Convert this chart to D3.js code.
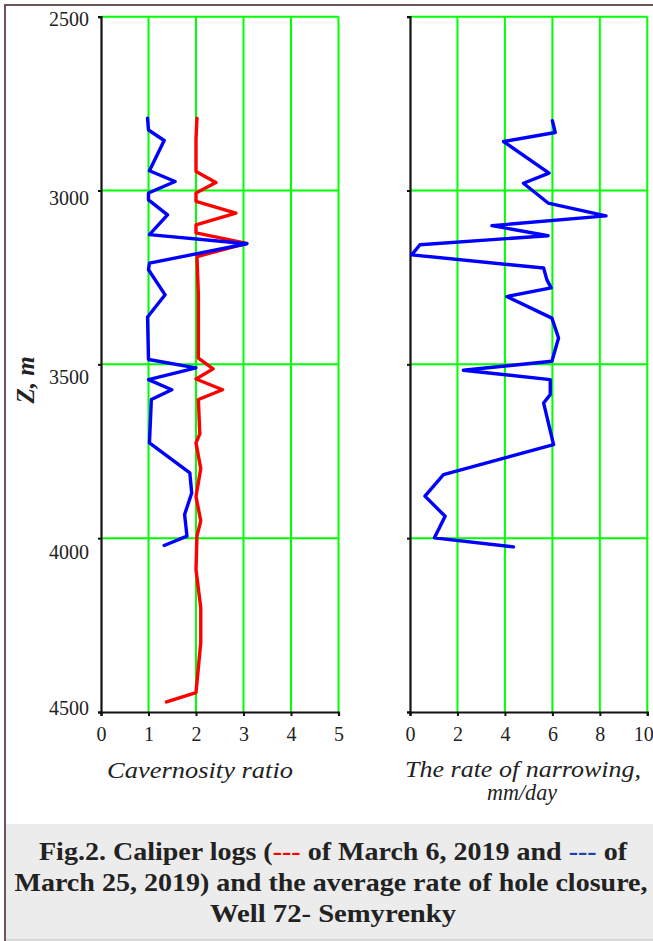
<!DOCTYPE html>
<html lang="en">
<head>
  <meta charset="UTF-8">
  <script src="https://d3js.org/d3.v7.min.js"></script>
  <style>
    body { margin: 0; background: #ffffff; }
    svg { display: block; }
    .tick-label { font-family: "Liberation Serif", serif; font-size: 20px; fill: #222; }
    .axis-title { font-family: "Liberation Serif", serif; font-style: italic; font-size: 23px; fill: #222; }
    .caption { font-family: "Liberation Serif", serif; font-weight: bold; font-size: 26px; fill: #222; }
  </style>
</head>
<body>
<div id="chart"></div>
<script>
  // depth ticks (m)
  const depthTicks = [2500, 3000, 3500, 4000, 4500];
  const cavTicks = [0, 1, 2, 3, 4, 5];
  const rateTicks = [0, 2, 4, 6, 8, 10];

  // caliper log of March 25, 2019 (blue)
  const depthBlue = [2792, 2826, 2856, 2943, 2974, 3007, 3027, 3070, 3127, 3153, 3209, 3228, 3300, 3364,
                     3486, 3510, 3544, 3573, 3601, 3726, 3812, 3870, 3932, 3994, 4021];
  const cavBlue = [0.98, 1.0, 1.33, 1.02, 1.56, 1.0, 1.0, 1.40, 1.02, 3.07, 1.02, 1.0, 1.35, 0.98,
                   1.0, 2.0, 1.0, 1.49, 1.06, 1.02, 1.87, 1.91, 1.76, 1.81, 1.33];

  // caliper log of March 6, 2019 (red)
  const depthRed = [2792, 2850, 2945, 2977, 3007, 3031, 3065, 3099, 3122, 3152, 3190, 3300, 3400, 3482,
                    3513, 3542, 3573, 3601, 3700, 3726, 3800, 3880, 3950, 3994, 4090, 4200, 4300, 4444, 4471];
  const cavRed = [2.02, 2.0, 2.0, 2.42, 2.0, 2.0, 2.84, 2.0, 2.0, 3.07, 2.02, 2.05, 2.05, 2.05,
                  2.36, 2.0, 2.56, 2.05, 2.08, 2.0, 2.1, 2.0, 2.1, 2.02, 2.0, 2.1, 2.1, 2.0, 1.38];

  // rate of narrowing, mm/day
  const depthRate = [2799, 2833, 2859, 2950, 2979, 3036, 3073, 3101, 3130, 3156, 3185, 3223, 3257, 3280,
                     3305, 3367, 3424, 3491, 3517, 3544, 3587, 3611, 3731, 3817, 3879, 3937, 3999, 4025];
  const rate = [6.0, 6.12, 3.94, 5.86, 4.78, 5.82, 8.26, 3.45, 5.82, 0.42, 0.07, 5.63, 5.77, 5.95,
                4.08, 5.98, 6.26, 5.98, 2.25, 5.91, 5.91, 5.63, 6.05, 1.41, 0.63, 1.48, 1.03, 4.36];

  const width = 653, height = 941;
  const green = "#00ff00";
  // the depth labels sit a little off their ticks in the original
  const depthLabelShift = [2, 8, 13, 14, -4];

  const svg = d3.select("#chart").append("svg")
    .attr("width", width)
    .attr("height", height);

  svg.append("rect").attr("width", width).attr("height", height).attr("fill", "#fff");

  // frame
  svg.append("line").attr("x1", 4).attr("x2", width).attr("y1", 5).attr("y2", 5)
    .attr("stroke", "#6e5657").attr("stroke-width", 2);
  svg.append("line").attr("x1", 5).attr("x2", 5).attr("y1", 4).attr("y2", height)
    .attr("stroke", "#6e5657").attr("stroke-width", 2);

  const y = d3.scaleLinear().domain([2500, 4500]).range([16.7, 712]);

  function panel(x, ticks, showDepth) {
    const g = svg.append("g");
    const [x0, x1] = x.range();

    // green grid
    g.selectAll(".vg").data(ticks.slice(1)).join("line")
      .attr("x1", d => x(d)).attr("x2", d => x(d))
      .attr("y1", y(2500)).attr("y2", y(4500))
      .attr("stroke", green).attr("stroke-width", 2);
    g.selectAll(".hg").data(depthTicks.slice(0, -1)).join("line")
      .attr("x1", x0).attr("x2", x1)
      .attr("y1", d => y(d)).attr("y2", d => y(d))
      .attr("stroke", green).attr("stroke-width", 2);

    // axes
    const ax = g.append("g").attr("transform", `translate(0,${y(4500)})`)
      .call(d3.axisBottom(x).tickValues(ticks).tickSize(4).tickPadding(5).tickFormat(d3.format("d")));
    const ay = g.append("g").attr("transform", `translate(${x0},0)`)
      .call(d3.axisLeft(y).tickValues(depthTicks).tickSize(3).tickPadding(9)
        .tickFormat(showDepth ? d3.format("d") : ""));
    [ax, ay].forEach(a => {
      a.select(".domain").attr("stroke", "#111").attr("stroke-width", 2.2);
      a.selectAll(".tick line").attr("stroke", "#111").attr("stroke-width", 2);
      a.selectAll("text").attr("class", "tick-label").attr("fill", "#222");
    });
    ax.selectAll(".tick text").attr("dy", "1em")
      .attr("dx", d => d === 10 ? -4 : 0);
    ay.selectAll(".tick text").attr("y", (d, i) => depthLabelShift[i]);
    return g;
  }

  const xCav = d3.scaleLinear().domain([0, 5]).range([101, 338.5]);
  const xRate = d3.scaleLinear().domain([0, 10]).range([410, 647.3]);

  const gL = panel(xCav, cavTicks, true);
  const gR = panel(xRate, rateTicks, false);

  function drawLine(g, x, depths, vals, color) {
    const line = d3.line().x((d, i) => x(vals[i])).y(d => y(d));
    g.append("path").datum(depths)
      .attr("d", line)
      .attr("fill", "none")
      .attr("stroke", color)
      .attr("stroke-width", 3.4)
      .attr("stroke-linejoin", "round")
      .attr("stroke-linecap", "round");
  }

  drawLine(gL, xCav, depthRed, cavRed, "#ff0000");
  drawLine(gL, xCav, depthBlue, cavBlue, "#0000ff");
  drawLine(gR, xRate, depthRate, rate, "#0000ff");

  // titles
  svg.append("text").attr("class", "axis-title")
    .attr("transform", "translate(34,380) rotate(-90)")
    .attr("text-anchor", "middle")
    .style("font-weight", "bold")
    .style("font-size", "25px")
    .text("Z, m");
  svg.append("text").attr("class", "axis-title")
    .attr("x", 200).attr("y", 778).attr("text-anchor", "middle")
    .attr("textLength", 186).attr("lengthAdjust", "spacingAndGlyphs")
    .text("Cavernosity ratio");
  svg.append("text").attr("class", "axis-title")
    .attr("x", 523).attr("y", 777).attr("text-anchor", "middle")
    .attr("textLength", 236).attr("lengthAdjust", "spacingAndGlyphs")
    .text("The rate of narrowing,");
  svg.append("text").attr("class", "axis-title")
    .attr("x", 522).attr("y", 800).attr("text-anchor", "middle")
    .attr("textLength", 70).attr("lengthAdjust", "spacingAndGlyphs")
    .text("mm/day");

  // caption box
  svg.append("rect").attr("x", 6).attr("y", 824).attr("width", width - 6).attr("height", 116)
    .attr("fill", "#ececec");
  svg.append("line").attr("x1", 6).attr("x2", width).attr("y1", 940).attr("y2", 940)
    .attr("stroke", "#cfcfcf").attr("stroke-width", 1.5);

  const cap = svg.append("g").attr("class", "caption");
  const l1 = cap.append("text").attr("x", 333).attr("y", 860).attr("text-anchor", "middle")
    .attr("textLength", 588).attr("lengthAdjust", "spacingAndGlyphs");
  l1.append("tspan").text("Fig.2. Caliper logs (");
  l1.append("tspan").attr("fill", "#ff0000").text("---");
  l1.append("tspan").text(" of March 6, 2019 and ");
  l1.append("tspan").attr("fill", "#1f3fae").text("---");
  l1.append("tspan").text(" of");
  cap.append("text").attr("x", 331).attr("y", 891).attr("text-anchor", "middle")
    .attr("textLength", 633).attr("lengthAdjust", "spacingAndGlyphs")
    .text("March 25, 2019) and the average rate of hole closure,");
  cap.append("text").attr("x", 333).attr("y", 922).attr("text-anchor", "middle")
    .attr("textLength", 246).attr("lengthAdjust", "spacingAndGlyphs")
    .text("Well 72- Semyrenky");
</script>
</body>
</html>
